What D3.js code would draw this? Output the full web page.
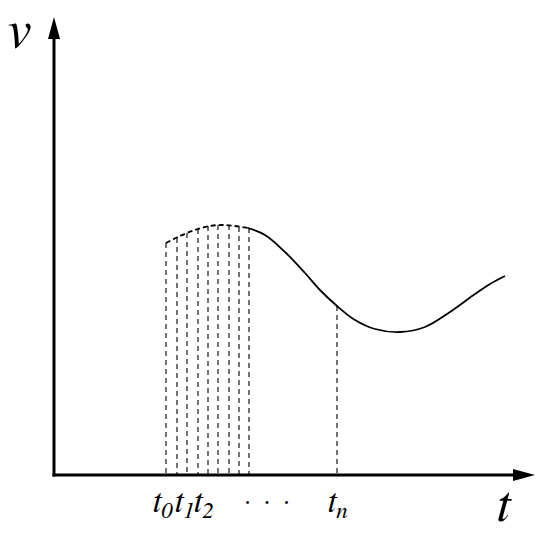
<!DOCTYPE html>
<html>
<head>
<meta charset="utf-8">
<script src="https://cdn.jsdelivr.net/npm/d3@7"></script>
<style>
  html, body { margin: 0; padding: 0; background: #fff; }
  #chart { width: 550px; height: 533px; }
  text { font-family: "FreeSerif", "Liberation Serif", "Times New Roman", serif; font-style: italic; }
</style>
</head>
<body>
<div id="chart"></div>
<script>
// curve samples (t, v)
const curveT = [112, 126, 141, 156, 168, 181, 194, 211, 231, 251, 266, 283, 301, 321, 346, 371, 396, 421, 436, 451];
const curveV = [232, 239, 245, 249, 250, 249, 247, 240, 223, 202, 185, 169, 155, 146, 143, 148, 163, 181, 191, 199];
// first part of the curve (up to this index) is dashed
const dashedUntil = 6;

// sample instants t0, t1, ... and tn with the curve value there
const tickT = [112, 123, 133, 144, 154, 164, 175, 185, 195, 283];
const tickV = [232, 237, 242, 246, 249, 250, 250, 248, 247, 169];

// labels under the axis
const labelMain = ["t", "t", "t", "t"];
const labelSub = ["0", "1", "2", "n"];
const labelT = [99, 121, 140, 274];
const dotsT = 213;

const axisNames = { x: "t", y: "v" };

const div = document.getElementById("chart");
const W = 550, H = 533;
const margin = { top: 18, right: 16, bottom: 58, left: 54 };
const width = W - margin.left - margin.right;
const height = H - margin.top - margin.bottom;

const svg = d3.select(div).append("svg")
    .attr("width", W).attr("height", H)
    .append("g").attr("transform", `translate(${margin.left},${margin.top})`);

const x = d3.scaleLinear().domain([0, width]).range([0, width]);
const y = d3.scaleLinear().domain([0, height]).range([height, 0]);

const pts = curveT.map((t, i) => ({ t, v: curveV[i] }));
const line = d3.line().x(d => x(d.t)).y(d => y(d.v)).curve(d3.curveCatmullRom.alpha(0.5));

// vertical dashed sample lines
svg.append("g").selectAll("line").data(tickT).enter().append("line")
    .attr("x1", d => x(d)).attr("x2", d => x(d))
    .attr("y1", (d, i) => y(tickV[i])).attr("y2", y(0))
    .attr("stroke", "#000").attr("stroke-width", 1.1)
    .attr("stroke-dasharray", "5,4");

// curve: dashed start, solid rest
svg.append("path").datum(pts.slice(0, dashedUntil + 1))
    .attr("d", line).attr("fill", "none")
    .attr("stroke", "#000").attr("stroke-width", 1.8)
    .attr("stroke-dasharray", "5,3");
svg.append("path").datum(pts.slice(dashedUntil))
    .attr("d", line).attr("fill", "none")
    .attr("stroke", "#000").attr("stroke-width", 1.8);

// axes with arrows
svg.append("line")
    .attr("x1", x(0)).attr("x2", x(0)).attr("y1", y(0) + 1.5).attr("y2", y(height) + 16)
    .attr("stroke", "#000").attr("stroke-width", 3);
svg.append("line")
    .attr("x1", x(0) - 1.5).attr("x2", x(width) - 16).attr("y1", y(0)).attr("y2", y(0))
    .attr("stroke", "#000").attr("stroke-width", 3);
svg.append("path")
    .attr("d", `M${x(0)},${y(height) - 1} L${x(0) - 6},${y(height) + 21} L${x(0) + 6},${y(height) + 21} Z`)
    .attr("fill", "#000");
svg.append("path")
    .attr("d", `M${x(width) + 1},${y(0)} L${x(width) - 21},${y(0) - 6} L${x(width) - 21},${y(0) + 6} Z`)
    .attr("fill", "#000");

// tick labels
const lab = svg.append("g");
labelMain.forEach((m, i) => {
    const tx = lab.append("text")
        .attr("x", x(labelT[i])).attr("y", y(0) + 37)
        .style("font-size", "33px");
    tx.append("tspan").text(m);
    tx.append("tspan").style("font-size", "23px").attr("dy", 6).text(labelSub[i]);
});
lab.append("text")
    .attr("x", x(dotsT)).attr("y", y(0) + 36)
    .attr("text-anchor", "middle")
    .style("font-style", "normal").style("font-size", "26px")
    .style("white-space", "pre")
    .text("·  ·  ·");

// axis names
svg.append("text")
    .attr("x", -48).attr("y", 30)
    .style("font-size", "54px").text(axisNames.y);
svg.append("text")
    .attr("x", x(width) - 37).attr("y", y(0) + 46)
    .style("font-size", "52px").text(axisNames.x);
</script>
</body>
</html>
